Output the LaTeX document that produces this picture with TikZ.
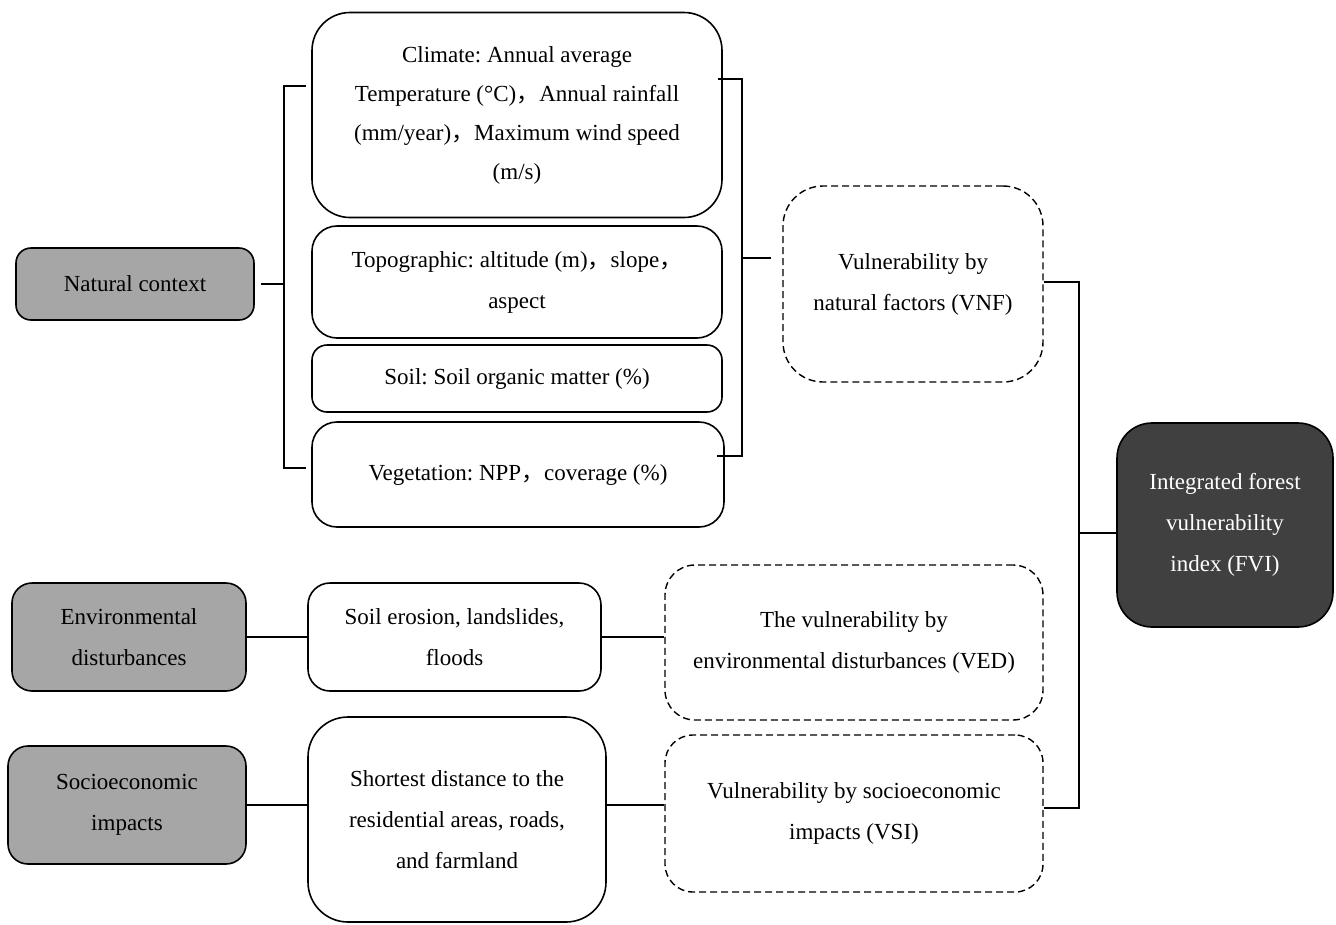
\documentclass[tikz,border=0pt]{standalone}
\usepackage{fontspec}
\setmainfont{Liberation Serif}
\newfontfamily\cjk{Noto Sans CJK SC}
\newcommand{\fwc}{{\cjk ，}}
\definecolor{causegray}{HTML}{A6A6A6}
\definecolor{indexgray}{HTML}{404040}
\frenchspacing

\begin{document}
\begin{tikzpicture}[x=1pt,y=-1pt]
        \tikzstyle{box}=[align=center,inner sep=0pt,line width=1.6pt,font=\fontsize{23}{41}\selectfont]
        \tikzstyle{cause}=[box,draw=black,fill=causegray]
        \tikzstyle{indicator}=[box,draw=black,fill=white]
        \tikzstyle{result}=[box,draw=black,dashed,dash pattern=on 7pt off 4pt,line width=1.4pt]
        \tikzstyle{index}=[box,draw=black,fill=indexgray,text=white]
        \tikzstyle{edge}=[draw,line width=2.6pt]
        \useasboundingbox (0,0) rectangle (1336,924);

        % drivers
        \node [cause,minimum width=238pt,minimum height=72pt,rounded corners=15pt] (nat) at (135,284) {Natural context};
        \node [cause,minimum width=234pt,minimum height=108pt,rounded corners=20pt] (env) at (129,637) {Environmental\\disturbances};
        \node [cause,minimum width=238pt,minimum height=118pt,rounded corners=20pt] (soc) at (127,805) {Socioeconomic\\impacts};

        % indicators
        \node [indicator,minimum width=410pt,minimum height=205pt,rounded corners=38pt,font=\fontsize{23}{39}\selectfont] (clim) at (517,115)
              {Climate: Annual average\\Temperature (°C)\fwc Annual rainfall\\(mm/year)\fwc Maximum wind speed\\(m/s)};
        \node [indicator,minimum width=410pt,minimum height=112pt,rounded corners=25pt] (topo) at (517,282) {Topographic: altitude (m)\fwc slope\fwc\\aspect};
        \node [indicator,minimum width=410pt,minimum height=67pt,rounded corners=15pt] (soil) at (517,378.5) {Soil: Soil organic matter (\%)};
        \node [indicator,minimum width=412pt,minimum height=105pt,rounded corners=25pt] (veg) at (518,474.5) {Vegetation: NPP\fwc coverage (\%)};
        \node [indicator,minimum width=293pt,minimum height=108pt,rounded corners=22pt] (ero) at (454.5,637) {Soil erosion, landslides,\\floods};
        \node [indicator,minimum width=298pt,minimum height=205pt,rounded corners=40pt] (dist) at (457,819.5) {Shortest distance to the\\residential areas, roads,\\and farmland};

        % sub-indices
        \node [result,minimum width=260pt,minimum height=196pt,rounded corners=40pt] (vnf) at (913,284) {Vulnerability by\\natural factors (VNF)};
        \node [result,minimum width=378pt,minimum height=155pt,rounded corners=30pt] (ved) at (854,642.5) {The vulnerability by\\environmental disturbances (VED)};
        \node [result,minimum width=378pt,minimum height=157pt,rounded corners=28pt] (vsi) at (854,813.5) {Vulnerability by socioeconomic\\impacts (VSI)};

        \node [index,minimum width=216pt,minimum height=204pt,rounded corners=35pt] (fvi) at (1225,525) {Integrated forest\\vulnerability\\index (FVI)};

        % brackets
        \coordinate (lt) at (284,86);
        \coordinate (lb) at (284,468);
        \coordinate (rt) at (742,79);
        \coordinate (rb) at (742,456);
        \coordinate (rm) at (742,258);
        \coordinate (ft) at (1079,282);
        \coordinate (fb) at (1079,808);
        \coordinate (fm) at (1079,533);

        \path[edge] ([xshift=-5pt]clim.west |- lt) -- (lt) -- (lb) -- ([xshift=-5pt]veg.west |- lb);
        \path[edge] ([xshift=6pt]nat.east) -- (nat.east -| lt);
        \path[edge] ([xshift=-5pt]clim.east |- rt) -- (rt) -- (rb) -- ([xshift=-8pt]veg.east |- rb);
        \path[edge] (rm) -- ([xshift=-11pt]vnf.west |- rm);
        \path[edge] (vnf.east |- ft) -- (ft) -- (fb) -- (vsi.east |- fb);
        \path[edge] (fm) -- (fvi.west |- fm);

        \path[edge] (env.east) -- (ero.west);
        \path[edge] (ero.east) -- (ero.east -| ved.west);
        \path[edge] (soc.east) -- (soc.east -| dist.west);
        \path[edge] (dist.east |- soc.east) -- (vsi.west |- soc.east);
\end{tikzpicture}
\end{document}
